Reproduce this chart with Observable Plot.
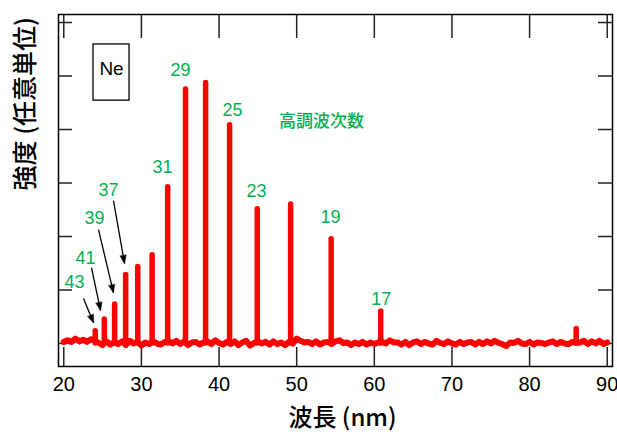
<!DOCTYPE html>
<html><head><meta charset="utf-8">
<script src="https://cdn.jsdelivr.net/npm/d3@7"></script>
<script src="https://cdn.jsdelivr.net/npm/@observablehq/plot@0.6"></script>
<style>body{margin:0;background:#fff}</style>
</head><body><div id="chart"></div>
<script>
// Harmonic peaks (Ne): order, wavelength (nm), peak intensity (a.u.)
const harmonicOrders = [43,41,39,37,35,33,31,29,27,25,23,21,19,17,12];
const peakWavelengths = [24.05,25.22,26.55,27.97,29.53,31.38,33.38,35.68,38.27,41.36,44.92,49.22,54.44,60.82,86.0];
const peakHeights = [0.23,0.45,0.73,1.28,1.43,1.65,2.92,4.75,4.87,4.08,2.51,2.60,1.95,0.60,0.27];

// Background (noise) level, sampled every 0.5 nm from 20 nm to 90 nm
const baselineStart = 20, baselineStep = 0.5;
const baseline = [
 0.03,0.06,0.03,0.09,0.04,0.07,0.03,0.08,0.05,0.01,
 -0.03,0.04,-0.02,0.03,-0.01,0.04,-0.03,0.05,0.00,0.03,
 -0.04,0.02,-0.01,0.04,0.00,-0.02,0.03,0.04,0.00,0.05,
 -0.01,0.04,-0.03,0.02,0.03,-0.02,0.02,0.04,-0.01,0.06,
 0.01,-0.02,0.03,-0.01,0.04,-0.03,0.02,0.05,-0.04,0.01,
 0.04,0.00,0.03,-0.02,0.04,-0.01,0.02,-0.03,0.03,0.00,
 0.09,0.05,0.02,0.03,-0.01,0.04,-0.02,0.02,0.03,-0.01,
 0.04,0.06,0.01,0.02,-0.03,0.02,-0.01,0.03,-0.02,0.02,
 -0.01,0.02,0.03,0.00,0.06,0.02,0.02,-0.02,0.03,-0.03,
 0.02,0.04,-0.01,0.03,0.00,-0.02,0.05,0.01,-0.01,0.04,
 0.00,-0.02,0.03,-0.01,0.02,0.03,-0.02,0.03,-0.01,0.04,
 0.00,0.05,0.01,-0.01,-0.05,0.02,0.01,0.05,0.00,-0.01,
 0.03,-0.02,0.02,0.01,-0.01,0.02,0.04,-0.01,0.03,0.00,
 -0.01,0.03,0.01,0.02,0.05,-0.01,0.04,0.00,0.05,-0.01,
 0.02
];

// Order labels and their positions
const labelText = ["43","41","39","37","31","29","25","23","19","17"];
const labelX = [21.38,22.80,23.95,25.76,32.71,35.03,41.73,44.82,54.35,60.90];
const labelY = [1.14,1.59,2.34,2.86,3.29,5.10,4.36,2.84,2.36,0.82];

// Arrows pointing at the weak high orders
const arrowX1 = [22.54,23.57,24.47,26.40];
const arrowY1 = [0.84,1.42,2.13,2.67];
const arrowX2 = [23.83,24.73,26.40,27.82];
const arrowY2 = [0.39,0.62,0.95,1.50];

// Annotation texts
const gasName = "Ne";
const gasBoxX = [23.83, 28.47];
const gasBoxY = [4.54, 5.59];
const gasTextPos = [26.15, 5.14];
const orderTitle = "高調波次数";
const orderTitlePos = [53.2, 4.15];

const xTicks = [20,30,40,50,60,70,80,90];
const yTicks = [0,1,2,3,4,5,6];
const xLabel = "波長 (nm)";
const yLabel = "強度 (任意単位)";

// Build tables
const peaks = harmonicOrders.map((o,i) => ({order:o, x:peakWavelengths[i], h:peakHeights[i]}));
const noise = baseline.map((v,i) => ({x: baselineStart + i*baselineStep, y: v}));
const labels = labelText.map((t,i) => ({t, x:labelX[i], y:labelY[i]}));
const arrows = arrowX1.map((_,i) => ({x1:arrowX1[i], y1:arrowY1[i], x2:arrowX2[i], y2:arrowY2[i]}));

const latin = "Liberation Sans, Arial, sans-serif";
const cjk = "Noto Sans CJK JP, sans-serif";
const green = "#00B050";

const W = 617, H = 440;
const mL = 58, mR = 5, mT = 14, mB = 74;
const frameW = W - mL - mR, frameH = H - mT - mB;

const chart = Plot.plot({
  width: W, height: H,
  marginLeft: mL, marginRight: mR, marginTop: mT, marginBottom: mB,
  x: {domain: [19.32, 90.68]},
  y: {domain: [-0.43, 6.15], axis: null},
  style: {background: "#fff", color: "#000"},
  marks: [
    // inward ticks
    Plot.ruleX(xTicks, {x: d => d, insetTop: frameH - 19, stroke: "#222", strokeWidth: 1.5}),
    Plot.ruleX(xTicks, {x: d => d, insetBottom: frameH - 24, stroke: "#222", strokeWidth: 1.5}),
    Plot.ruleY(yTicks, {y: d => d, insetRight: frameW - 14, stroke: "#222", strokeWidth: 1.5}),
    Plot.ruleY(yTicks, {y: d => d, insetLeft: frameW - 14, stroke: "#222", strokeWidth: 1.5}),
    Plot.axisX({ticks: xTicks, tickSize: 0, tickPadding: 10, fontSize: 20, fontFamily: latin, label: null, tickFormat: d => d}),
    // spectrum
    Plot.ruleX(peaks, {x: "x", y1: 0, y2: "h", stroke: "#ff0000", strokeWidth: 5.5, strokeLinecap: "round"}),
    Plot.line(noise, {x: "x", y: "y", stroke: "#ff0000", strokeWidth: 6, strokeLinejoin: "round", strokeLinecap: "round"}),
    // annotations
    Plot.link(arrows, {x1: "x1", y1: "y1", x2: "x2", y2: "y2", stroke: "#000", strokeWidth: 1.3, markerEnd: "arrow"}),
    Plot.text(labels, {x: "x", y: "y", text: "t", fill: green, fontSize: 18, fontFamily: latin}),
    Plot.text([orderTitle], {x: orderTitlePos[0], y: orderTitlePos[1], text: d => d, fill: green, fontSize: 17, fontWeight: 500, fontFamily: cjk}),
    Plot.rect([0], {x1: gasBoxX[0], x2: gasBoxX[1], y1: gasBoxY[0], y2: gasBoxY[1], fill: "none", stroke: "#000", strokeWidth: 1.3}),
    Plot.text([gasName], {x: gasTextPos[0], y: gasTextPos[1], text: d => d, fontSize: 19, fontFamily: latin, fill: "#000"}),
    // axis titles
    Plot.text([xLabel], {frameAnchor: "bottom", dx: 7, dy: 59, text: d => d, fontSize: 24, fontWeight: 500, fontFamily: cjk, fill: "#000"}),
    Plot.text([yLabel], {frameAnchor: "left", dx: -33, rotate: -90, text: d => d, fontSize: 25, fontWeight: 500, fontFamily: cjk, fill: "#000"}),
    Plot.frame({stroke: "#000", strokeWidth: 1.5})
  ]
});

// filled arrow heads
d3.select(chart).selectAll("marker")
  .attr("overflow", "visible")
  .attr("fill", "#000")
  .attr("stroke", "#000")
  .attr("stroke-width", 0.5)
  .selectAll("path").attr("d", "M-9,-3.6L0.5,0L-9,3.6Z");

document.getElementById("chart").appendChild(chart);
</script>
</body></html>
